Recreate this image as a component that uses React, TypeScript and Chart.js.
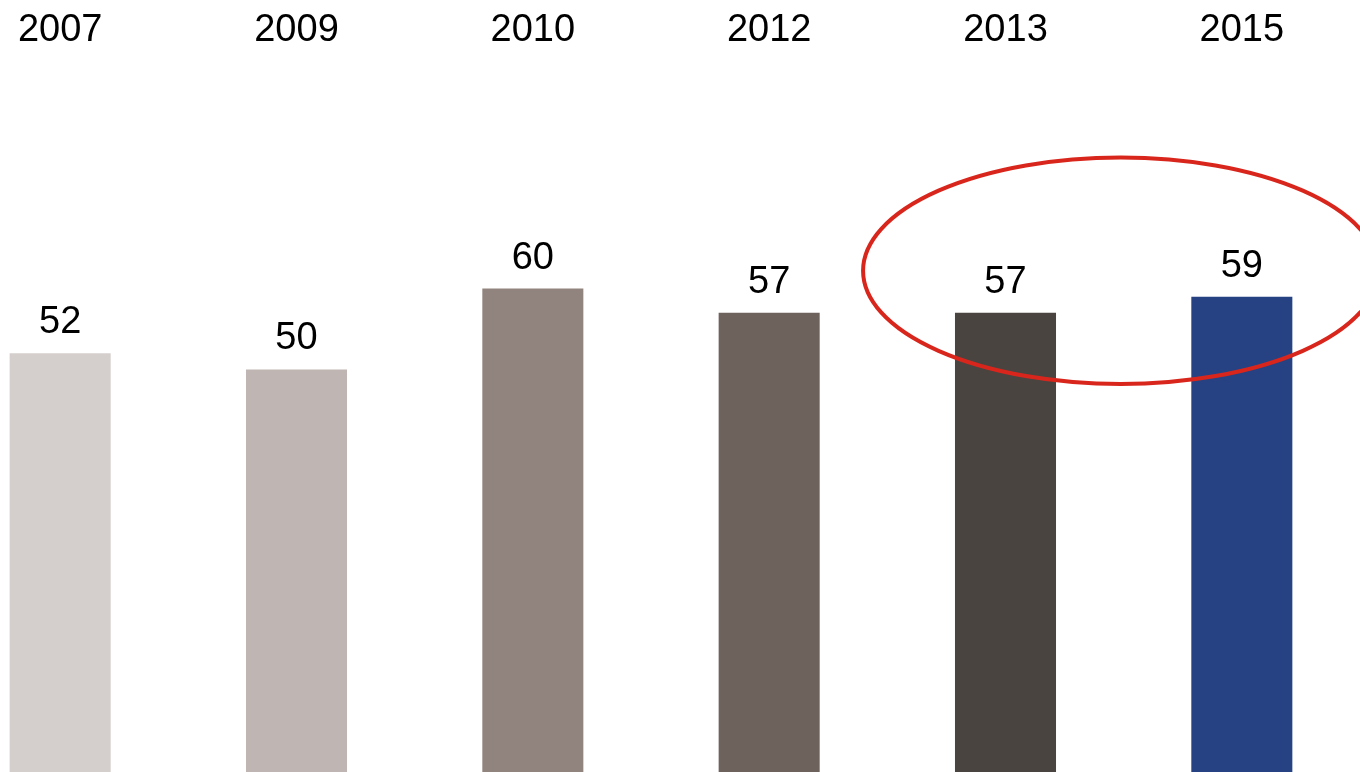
import React, { useEffect, useRef } from "react";
import { Chart, registerables } from "chart.js";

Chart.register(...registerables);

const years = ["2007", "2009", "2010", "2012", "2013", "2015"];
const values = [52, 50, 60, 57, 57, 59];
const barColors = ["#d4cfcc", "#bfb5b2", "#91847f", "#6e625d", "#4a4440", "#264282"];
// highlight ellipse around the last two years (in data units)
const highlightYears = ["2013", "2015"];
const highlightCenterValue = 62.2;
const highlightHalfHeightValue = 14;
const highlightHalfWidthCategories = 1.09;

const FONT = "'Liberation Sans', Arial, sans-serif";

const valueLabels = {
  id: "valueLabels",
  afterDatasetsDraw(chart: any) {
    const ctx = chart.ctx;
    const meta = chart.getDatasetMeta(0);
    ctx.save();
    ctx.font = `38px ${FONT}`;
    ctx.fillStyle = "#000000";
    ctx.textAlign = "center";
    ctx.textBaseline = "alphabetic";
    meta.data.forEach((bar: any, i: number) => {
      ctx.fillText(String(values[i]), bar.x, bar.y - 20);
    });
    ctx.restore();
  },
};

const highlight = {
  id: "highlight",
  afterDatasetsDraw(chart: any) {
    const ctx = chart.ctx;
    const xs = chart.scales.x;
    const ys = chart.scales.y;
    const i0 = years.indexOf(highlightYears[0]);
    const i1 = years.indexOf(highlightYears[1]);
    const x0 = xs.getPixelForValue(i0);
    const x1 = xs.getPixelForValue(i1);
    const step = x1 - x0;
    const cx = (x0 + x1) / 2 - 3;
    const cy = ys.getPixelForValue(highlightCenterValue);
    const ry = Math.abs(ys.getPixelForValue(highlightCenterValue + highlightHalfHeightValue) - cy);
    const rx = step * highlightHalfWidthCategories;
    ctx.save();
    ctx.beginPath();
    ctx.ellipse(cx, cy, rx, ry, 0, 0, Math.PI * 2);
    ctx.strokeStyle = "#d9261c";
    ctx.lineWidth = 4;
    ctx.stroke();
    ctx.restore();
  },
};

export default function App() {
  const ref = useRef<HTMLCanvasElement | null>(null);
  useEffect(() => {
    document.body.style.margin = "0";
    document.body.style.overflow = "hidden";
    const chart = new Chart(ref.current as HTMLCanvasElement, {
      type: "bar",
      data: {
        labels: years,
        datasets: [
          {
            data: values,
            backgroundColor: barColors,
            borderWidth: 0,
            categoryPercentage: 1,
            barPercentage: 0.4275,
          },
        ],
      },
      options: {
        animation: false,
        responsive: true,
        maintainAspectRatio: false,
        layout: { padding: 0 },
        plugins: { legend: { display: false }, tooltip: { enabled: false } },
        scales: {
          x: {
            position: "top",
            grid: { display: false, drawTicks: false },
            border: { display: false },
            ticks: {
              color: "#000000",
              font: { family: FONT, size: 38 },
              padding: 9,
              maxRotation: 0,
              autoSkip: false,
            },
            afterFit(scale: any) {
              scale.height = 62;
            },
          },
          y: {
            display: false,
            min: 0,
            max: 88,
          },
        },
      },
      plugins: [valueLabels, highlight],
    });
    return () => chart.destroy();
  }, []);
  return (
    <div style={{ position: "fixed", left: -58, top: 0, width: 1418, height: 774, background: "#ffffff" }}>
      <canvas ref={ref} />
    </div>
  );
}
